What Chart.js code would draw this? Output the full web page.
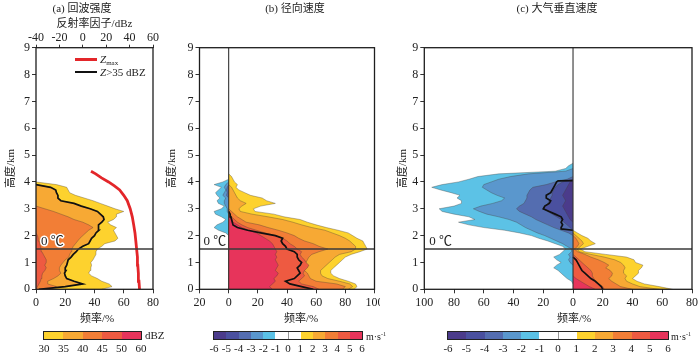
<!DOCTYPE html>
<html>
<head>
<meta charset="utf-8">
<script src="https://cdn.jsdelivr.net/npm/chart.js@4.4.1/dist/chart.umd.min.js"></script>
<style>
  body { margin: 0; background: #fff; }
  #wrap { position: relative; width: 700px; height: 353px; overflow: hidden; background: #fff;
          font-family: "Liberation Serif", "Noto Sans CJK SC", serif; color: #222; }
  canvas { position: absolute; top: 0; }
  .t { position: absolute; white-space: nowrap; font-size: 11px; line-height: 14px; }
  .c { transform: translateX(-50%); }
  .bar { position: absolute; top: 331px; height: 7px; border: 1px solid #222; display: flex; }
  .bar div { flex: 1; }
  .swatch { position: absolute; width: 22px; }
  sub { font-size: 7px; vertical-align: -2px; }
  sup { font-size: 6px; vertical-align: 4px; }
</style>
</head>
<body>
<div id="wrap">
  <canvas id="cA" width="170" height="353" style="left:0px"></canvas>
  <canvas id="cB" width="215" height="353" style="left:165px"></canvas>
  <canvas id="cC" width="305" height="353" style="left:395px"></canvas>

  <div class="t c" style="left:82px; top:1px;">(a) 回波强度</div>
  <div class="t c" style="left:295px; top:1px;">(b) 径向速度</div>
  <div class="t c" style="left:557px; top:1px;">(c) 大气垂直速度</div>

  <div class="t c" style="left:97px; top:311px;">频率/%</div>
  <div class="t c" style="left:301px; top:311px;">频率/%</div>
  <div class="t c" style="left:574px; top:311px;">频率/%</div>

  <div class="swatch" style="left:75px; top:57.5px; height:3px; background:#e3262a;"></div>
  <div class="t" style="left:100px; top:52px;"><i>Z</i><sub>max</sub></div>
  <div class="swatch" style="left:75px; top:70.5px; height:2px; background:#111;"></div>
  <div class="t" style="left:100px; top:64.5px;"><i>Z</i>&gt;35 dBZ</div>

  <div class="t" style="left:145px; top:328px;">dBZ</div>
  <div class="t" style="left:366px; top:327px; font-size:10px;">m·s<sup>-1</sup></div>
  <div class="t" style="left:671px; top:327px; font-size:10px;">m·s<sup>-1</sup></div>
</div>
<script>
// heights of every profile are spaced 0.1 km apart, starting at the given height
const H_STEP = 0.1;
const FREEZE_H = 1.5;

// (a) echo intensity: frequency (%) of Z above 30 / 35 / 40 / 45 dBZ, from 0 km
const aZ30 = [45, 52, 50, 45, 42, 38, 36, 37, 37.5, 38, 37.5, 39, 40, 41, 41, 42, 45, 47, 54, 56,
              55, 54, 53, 55, 51, 49, 53, 55, 55, 60, 54, 49, 44, 39, 33, 27, 23, 22, 21, 14, 0];
const aZ35 = [2, 20, 32, 26, 21, 20, 19.5, 20.5, 20, 21, 21.5, 22, 24, 25.5, 27.5, 29, 32, 36, 37, 38,
              40, 41, 43, 42.5, 43, 45, 46.5, 46, 44, 42, 37, 31, 26, 17, 15, 15, 14, 13.5, 10, 0];
const aZ40 = [10, 14, 8, 8, 12, 15, 17, 16, 16, 17, 18.5, 20, 22.5, 23, 24, 24.5, 25.5, 27, 28.5, 30,
              32, 34, 36, 39, 36, 32, 26, 22, 17, 12, 6, 0];
const aZ45 = [0, 1, 2, 3, 3.5, 4, 4.5, 6, 7, 6, 7, 7, 6, 5, 4, 3.5, 3, 2.5, 2, 1.5, 1, 0];
// maximum reflectivity (dBZ, top axis)
const aZmaxH = [0, 0.3, 0.6, 0.9, 1.2, 1.5, 1.8, 2.1, 2.4, 2.7, 3.0, 3.3, 3.5, 3.7, 3.85, 4.0, 4.15, 4.3, 4.4];
const aZmax  = [48.5, 48, 47.5, 47, 46.7, 46, 45.3, 44.6, 43.5, 42.3, 40.5, 38, 35, 31.5, 27, 22, 16, 11, 7];

// (b) radial velocity: positive side > 1..5 m/s (from 0 km), negative side < -1..-3 m/s
const bP1 = [86, 88, 87, 82, 76, 72, 70, 70, 72, 74, 76, 78, 80, 84, 90, 95, 94, 93, 92, 88,
             85, 82, 75, 67, 60, 54, 49, 38, 31, 18, 17, 22, 32, 26, 23, 15, 11, 7, 5, 6, 4, 3, 2, 0];
const bP2 = [82, 85, 83, 76, 68, 64, 63, 63, 65, 67, 69, 71, 73, 76, 84, 87, 87, 85, 83, 80,
             76, 71, 66, 57, 50, 44, 37, 27, 16, 8, 7, 9, 12, 8, 6, 5, 4, 3, 2, 0];
const bP3 = [78, 80, 74, 60, 56, 55, 54, 52, 51, 52, 53, 54, 55, 57, 62, 68, 62, 58, 52, 48,
             45, 40, 34, 27, 21, 12, 9, 6, 4, 2, 0];
const bP4 = [62, 58, 50, 48, 50, 52, 51, 52, 54, 55, 53, 52, 50, 49, 50, 47, 45, 42, 40, 37,
             32, 25, 19, 13, 9, 6, 4, 2, 1, 0];
const bP5 = [30, 28, 30, 32, 31, 33, 34, 32, 33, 34, 33, 32, 33, 32, 33, 32, 31, 30, 28, 25,
             22, 19, 14, 9, 6, 3, 2, 1, 0.5, 0];
const bMean = [58, 50, 42, 39, 45, 47, 49, 48, 47, 49, 50, 48, 47, 47, 45, 40, 39, 37, 36, 37,
               32, 22, 13, 6, 3, 2.5, 2, 1.5, 1, 0];
const bN1 = [0, -2, -7, -10, -8, -4, -2, -5, -9, -10, -5, -3, -7, -8, -6, -8, -9, -7, -5, -10, -4, 0]; // from 2.0 km
const bN2 = [0, -1, -1, -2, -3, -3, -2, -4, -3, -2, -3, -2, 0];                                   // from 2.8 km
const bN3 = [0, -1.5, -1, -1.5, -1, 0];                                                           // from 3.4 km

// (c) vertical air velocity
const cP1 = [67, 58, 48, 43, 40, 42, 44, 44, 46, 47, 42, 41, 36, 22, 8, 5, 10, 15, 12, 10, 6, 3, 0];
const cP2 = [58, 45, 40, 36, 35, 36, 34, 34, 35, 34, 32, 28, 21, 12, 4, 3, 5, 7, 6, 4, 2, 0];
const cP3 = [40, 32, 29, 26, 24, 26, 26.5, 25, 22, 24, 21, 17, 12, 8, 3, 1, 3, 4, 3, 2, 0];
const cP4 = [21, 20, 17, 15, 14, 13, 13, 12, 10, 8, 6, 4, 2, 0];
const cP5 = [15, 11, 8, 5, 2, 0];
const cN1 = [0, -1, -4, -6, -8, -10, -13, -11, -8, -11, -13, -9, -7, -5, -7, -12, -17, -23, -28, -36,
             -46, -60, -70, -77, -66, -70, -80, -88, -90, -80, -75, -75, -78, -76, -82, -89, -95, -88,
             -77, -70, -64, -50, -12, -5, -3, 0];                                                  // from 0.2 km
const cN2 = [0, -2, -3, -2, -3, -1, -1, -4, -7, -11, -15, -19, -24, -28, -32, -35, -38, -43, -50,
             -58, -63, -67, -62, -54, -48, -46, -51, -55, -58, -61, -60, -55, -50, -42, -30, -5, 0]; // from 0.9 km
const cN3 = [0, -3, -8, -13, -17, -21, -25, -28, -32, -36, -38, -36, -33, -32, -31, -31, -30, -29,
             -27, -18, -12, -4, 0];                                                                // from 2.0 km
const cN4 = [0, -2, -4, -6, -8, -11, -14, -17, -20, -19, -17, -16, -15, -14, -14, -13, -12, -10, -7, 0]; // from 2.2 km
const cN5 = [0, -2, -3, -4, -5, -6, -7, -6, -5, -6, -7, -6, -5, -4, -3, -2, 0];                         // from 2.5 km
const cMeanNegH = [2.2, 2.25, 2.3, 2.4, 2.5, 2.6, 2.7, 2.8, 2.9, 3.0, 3.1, 3.2, 3.3, 3.4, 3.5, 3.6, 3.7, 3.8, 3.9, 4.0, 4.04, 4.05];
const cMeanNeg  = [0, -8, -8, -7, -8, -7, -8, -12, -16, -20, -19, -16, -15, -18, -18, -15, -14, -13, -12, -11, -10, 0];
const cMeanPos  = [20, 19, 17, 15, 12, 10, 8, 6, 5, 4, 3, 2, 0];

// colour bars
const cbarATicks = ['30', '35', '40', '45', '50', '60'];
const cbarVTicks = ['-6', '-5', '-4', '-3', '-2', '-1', '0', '1', '2', '3', '4', '5', '6'];

const COL = {
  y: '#fdd22e', lo: '#f7a934', o: '#f27e36', ro: '#ee5a41', p: '#e7345b',
  b1: '#5cc2e6', b2: '#5a97cd', b3: '#546db0', b4: '#4a509f', b5: '#4b3b8b'
};
const cbarAColors = [COL.y, COL.lo, COL.o, COL.ro, COL.p];
const cbarVColors = [COL.b5, COL.b4, COL.b3, COL.b2, COL.b1, '#fff', '#fff', COL.y, COL.lo, COL.o, COL.ro, COL.p];

const FONT = '"Liberation Serif", "Noto Sans CJK SC", serif';

function profile(start, values) {
  return values.map((v, i) => ({ x: v, y: +(start + i * H_STEP).toFixed(2) }));
}
function pairs(hs, vs) {
  return vs.map((v, i) => ({ x: v, y: hs[i] }));
}
function area(data, color) {
  return { data, backgroundColor: color, borderColor: 'rgba(70,60,55,0.5)', borderWidth: 0.7,
           fill: 'origin', pointRadius: 0, tension: 0 };
}
function line(data, color, width, axis) {
  return { data, borderColor: color, borderWidth: width, fill: false, pointRadius: 0, tension: 0,
           xAxisID: axis || 'x' };
}
function freezeLine(min, max) {
  return line(pairs([FREEZE_H, FREEZE_H], [min, max]), '#3a3a3a', 1.6);
}
function zeroLine() {
  return line(pairs([0, 9], [0, 0]), '#333', 1.1);
}

function yScale(width, titlePad) {
  return {
    type: 'linear', position: 'left', min: 0, max: 9,
    ticks: { stepSize: 1, color: '#222', font: { family: FONT, size: 12 }, padding: 2 },
    grid: { drawOnChartArea: false, tickLength: 4, color: '#333' },
    border: { display: false },
    title: { display: true, text: '高度/km', color: '#222', font: { family: FONT, size: 11 },
             padding: { top: titlePad, bottom: 0 } },
    afterFit(s) { s.width = width; s.paddingTop = 0; s.paddingBottom = 0; }
  };
}
function xScale(min, max) {
  return {
    type: 'linear', position: 'bottom', min, max,
    ticks: { stepSize: 20, color: '#222', font: { family: FONT, size: 12 }, padding: 2.5,
             callback: v => Math.abs(v) },
    grid: { drawOnChartArea: false, tickLength: 4, color: '#333' },
    border: { display: false },
    afterFit(s) { s.height = 38; s.paddingLeft = 0; s.paddingRight = 0; }
  };
}
function topScale() {
  return {
    type: 'linear', axis: 'x', position: 'top', min: -40, max: 60,
    ticks: { stepSize: 20, color: '#222', font: { family: FONT, size: 12 }, padding: 0 },
    grid: { drawOnChartArea: false, tickLength: 3, color: '#333' },
    border: { display: false },
    title: { display: true, text: '反射率因子/dBz', color: '#222', font: { family: FONT, size: 11 },
             padding: { top: 3.2, bottom: 0 } },
    afterFit(s) { s.height = 33.5; s.paddingLeft = 0; s.paddingRight = 0; }
  };
}

// box round the plot and the 0 ℃ label
const framePlugin = {
  id: 'frame',
  afterDatasetsDraw(chart, args, opts) {
    const { ctx, chartArea: a, scales } = chart;
    ctx.save();
    ctx.strokeStyle = '#1e1e1e';
    ctx.lineWidth = 1.3;
    ctx.strokeRect(a.left, a.top, a.right - a.left, a.bottom - a.top);
    const y = scales.y.getPixelForValue(FREEZE_H) - 7;
    const x = a.left + opts.dx;
    ctx.font = '13px ' + FONT;
    ctx.textBaseline = 'middle';
    if (opts.halo) {
      ctx.lineWidth = 3;
      ctx.strokeStyle = '#fff';
      ctx.lineJoin = 'round';
      ctx.strokeText('0 ℃', x, y);
    }
    ctx.fillStyle = '#222';
    ctx.fillText('0 ℃', x, y);
    ctx.restore();
  }
};

function baseOptions(padding, scales, frame) {
  return {
    indexAxis: 'y', responsive: false, animation: false, events: [],
    layout: { padding },
    plugins: { legend: { display: false }, tooltip: { enabled: false }, frame },
    scales
  };
}

// panel (a)
new Chart(document.getElementById('cA'), {
  type: 'line',
  data: {
    datasets: [
      freezeLine(0, 80),
      line(pairs(aZmaxH, aZmax), '#e3262a', 2.8, 'x2'),
      line(profile(0, aZ35), '#111', 1.7),
      area(profile(0, aZ45), COL.ro),
      area(profile(0, aZ40), COL.o),
      area(profile(0, aZ35), COL.lo),
      area(profile(0, aZ30), COL.y)
    ]
  },
  options: baseOptions({ left: 0, right: 17, top: 14.2, bottom: 25.7 },
    { x: xScale(0, 80), x2: topScale(), y: yScale(36, 4.4) }, { dx: 5, halo: true }),
  plugins: [framePlugin]
});

// panel (b)
new Chart(document.getElementById('cB'), {
  type: 'line',
  data: {
    datasets: [
      freezeLine(-20, 100),
      zeroLine(),
      line(profile(0, bMean), '#111', 1.7),
      area(profile(0, bP5), COL.p),
      area(profile(0, bP4), COL.ro),
      area(profile(0, bP3), COL.o),
      area(profile(0, bP2), COL.lo),
      area(profile(0, bP1), COL.y),
      area(profile(3.4, bN3), COL.b3),
      area(profile(2.8, bN2), COL.b2),
      area(profile(2.0, bN1), COL.b1)
    ]
  },
  options: baseOptions({ left: 0, right: 5.5, top: 47.7, bottom: 25.7 },
    { x: xScale(-20, 100), y: yScale(34.5, 0.4) }, { dx: 4, halo: false }),
  plugins: [framePlugin]
});

// panel (c)
new Chart(document.getElementById('cC'), {
  type: 'line',
  data: {
    datasets: [
      freezeLine(-100, 80),
      zeroLine(),
      line(pairs(cMeanNegH, cMeanNeg), '#111', 1.7),
      line(profile(0, cMeanPos), '#111', 1.7),
      area(profile(0, cP5), COL.p),
      area(profile(0, cP4), COL.ro),
      area(profile(0, cP3), COL.o),
      area(profile(0, cP2), COL.lo),
      area(profile(0, cP1), COL.y),
      area(profile(2.5, cN5), COL.b5),
      area(profile(2.2, cN4), COL.b4),
      area(profile(2.0, cN3), COL.b3),
      area(profile(0.9, cN2), COL.b2),
      area(profile(0.2, cN1), COL.b1)
    ]
  },
  options: baseOptions({ left: 0, right: 8, top: 47.7, bottom: 25.7 },
    { x: xScale(-100, 80), y: yScale(29.3, 1.4) }, { dx: 5, halo: false }),
  plugins: [framePlugin]
});

// colour bars with their tick labels
function colorbar(left, width, colors, ticks) {
  const wrap = document.getElementById('wrap');
  const bar = document.createElement('div');
  bar.className = 'bar';
  bar.style.left = left + 'px';
  bar.style.width = width + 'px';
  colors.forEach((c, i) => {
    const seg = document.createElement('div');
    seg.style.background = c;
    if (c === '#fff' && colors[i - 1] === '#fff') seg.style.borderLeft = '1px solid #999';
    bar.appendChild(seg);
  });
  wrap.appendChild(bar);
  const step = width / colors.length;
  ticks.forEach((t, i) => {
    const lab = document.createElement('div');
    lab.className = 't c';
    lab.style.left = (left + 1 + i * step) + 'px';
    lab.style.top = '341px';
    lab.textContent = t;
    wrap.appendChild(lab);
  });
}
colorbar(43, 97, cbarAColors, cbarATicks);
colorbar(213, 148, cbarVColors, cbarVTicks);
colorbar(447, 220, cbarVColors, cbarVTicks);
</script>
</body>
</html>
